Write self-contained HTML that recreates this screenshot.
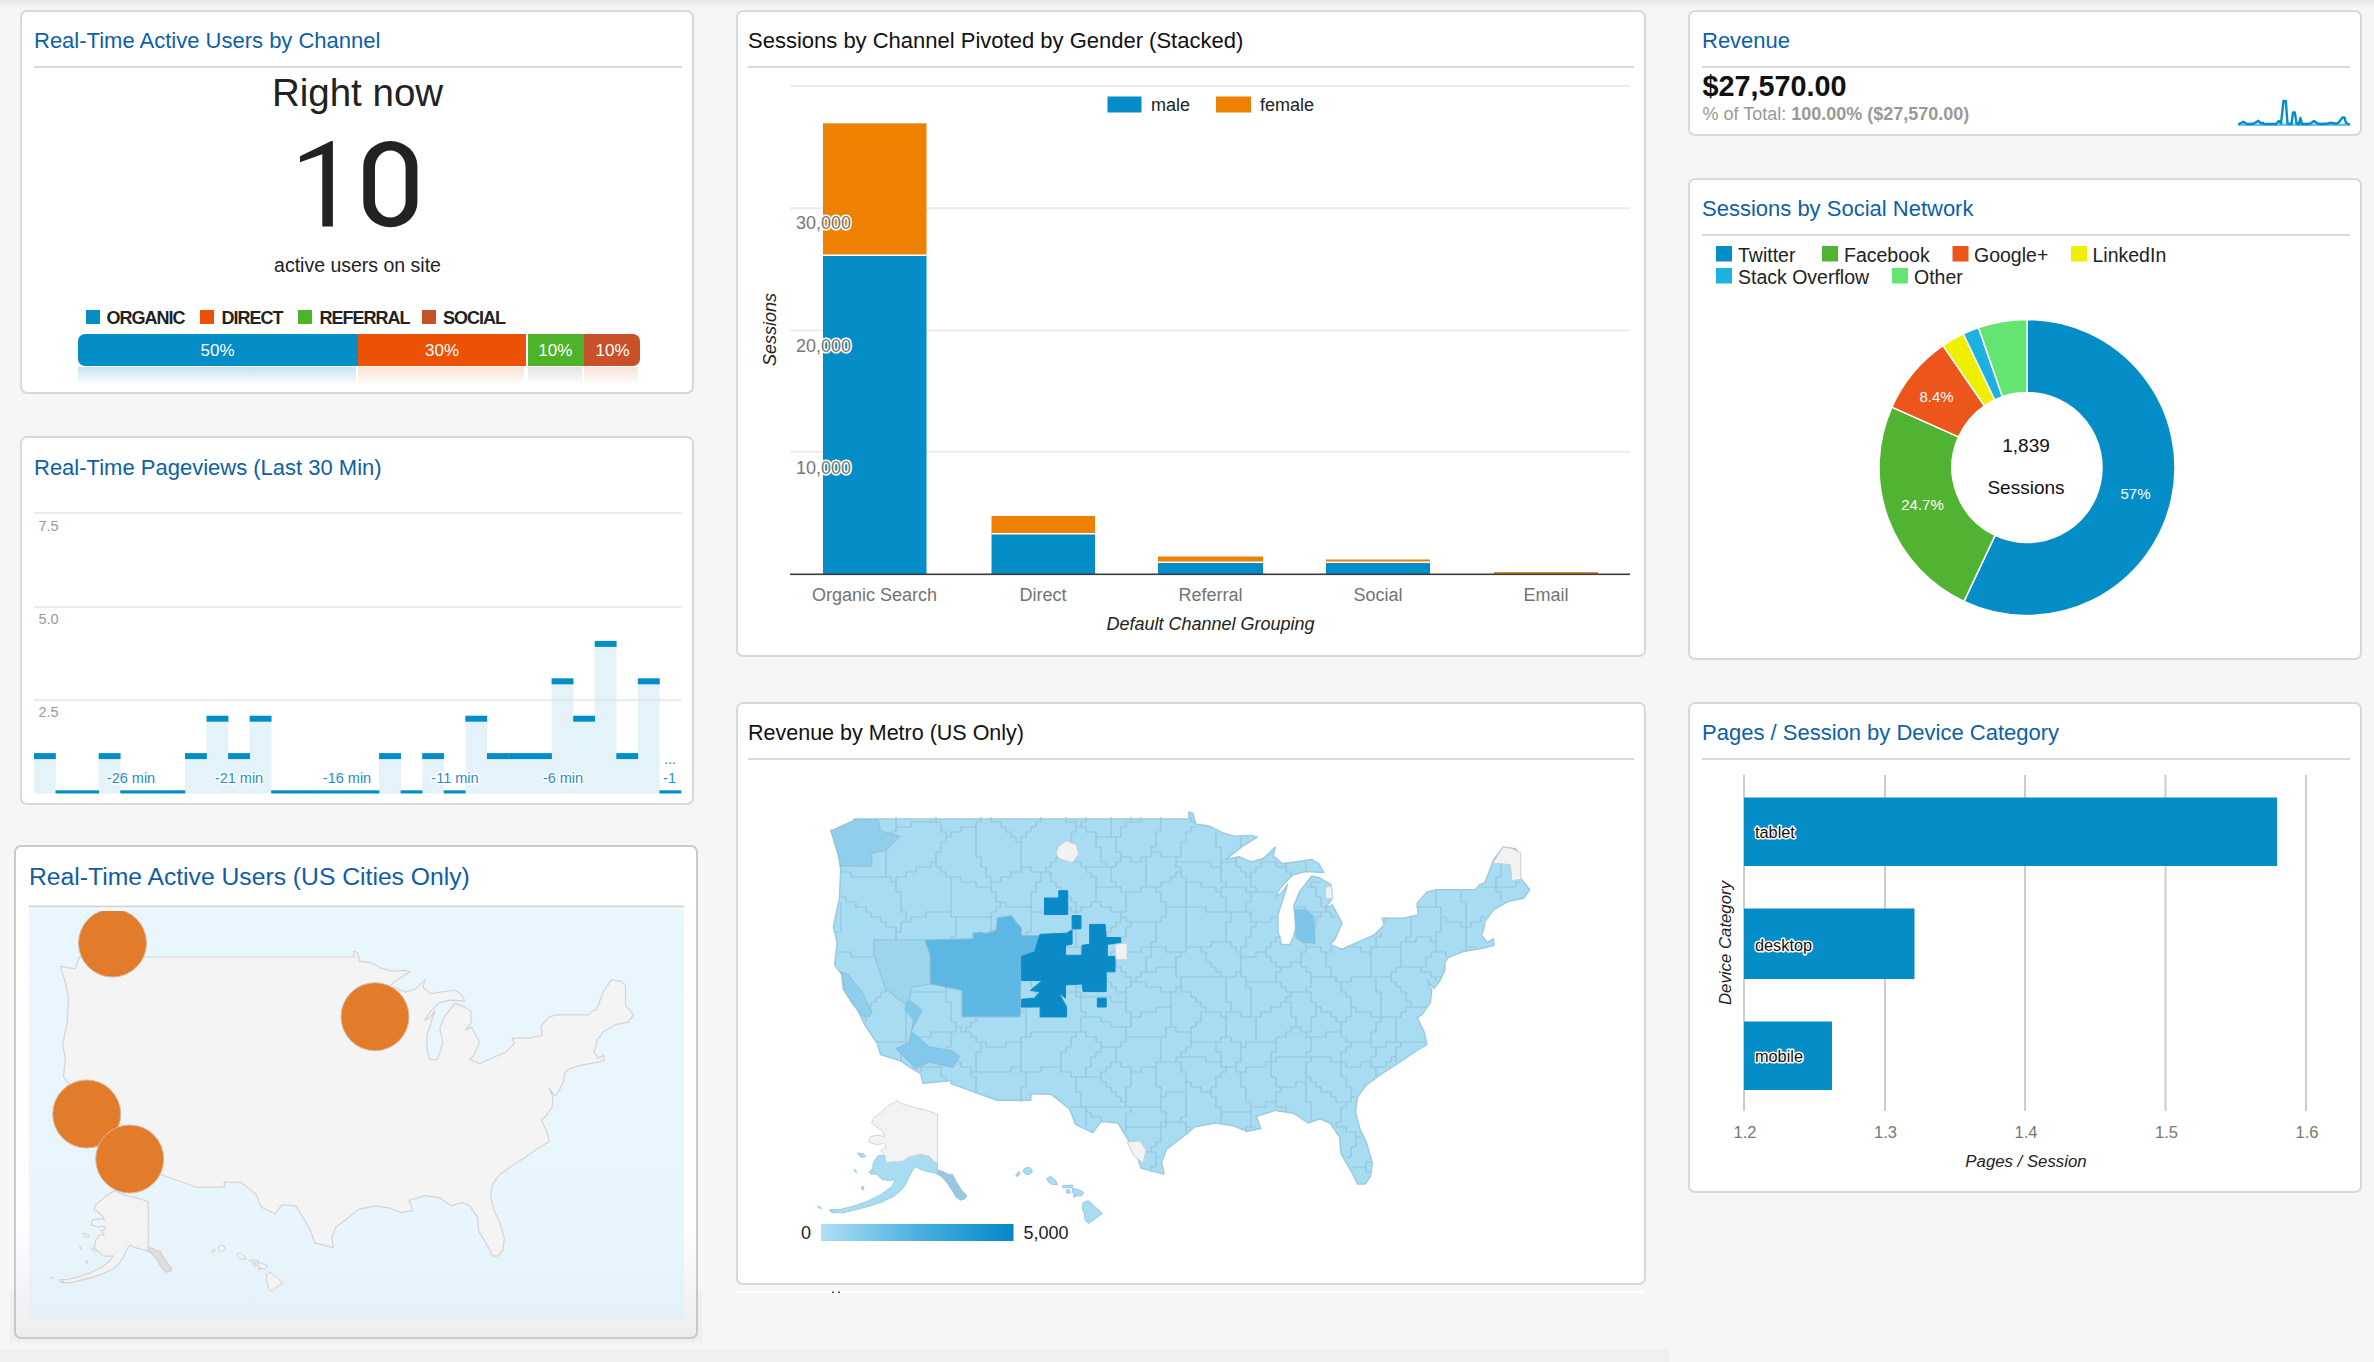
<!DOCTYPE html>
<html><head><meta charset="utf-8"><style>
html,body{margin:0;padding:0;}
body{width:2374px;height:1362px;overflow:hidden;background:#f6f6f6;font-family:"Liberation Sans", sans-serif;}
svg{position:absolute;left:0;top:0;}
svg text{font-family:"Liberation Sans", sans-serif;}
</style></head><body>
<svg width="2374" height="1362" viewBox="0 0 2374 1362">
<defs>
<linearGradient id="topshade" x1="0" y1="0" x2="0" y2="1"><stop offset="0" stop-color="#e6e6e6"/><stop offset="1" stop-color="#f6f6f6"/></linearGradient>
</defs>
<rect x="0" y="0" width="2374" height="8" fill="url(#topshade)"/>
<rect x="21" y="11" width="672" height="382" rx="6" ry="6" fill="#fff" stroke="#d8d8d8" stroke-width="2"/>
<rect x="21" y="437" width="672" height="367" rx="6" ry="6" fill="#fff" stroke="#d8d8d8" stroke-width="2"/>
<rect x="737" y="11" width="908" height="645" rx="6" ry="6" fill="#fff" stroke="#d8d8d8" stroke-width="2"/>
<rect x="737" y="703" width="908" height="581" rx="6" ry="6" fill="#fff" stroke="#d8d8d8" stroke-width="2"/>
<rect x="1689" y="11" width="672" height="124" rx="6" ry="6" fill="#fff" stroke="#d8d8d8" stroke-width="2"/>
<rect x="1689" y="179" width="672" height="480" rx="6" ry="6" fill="#fff" stroke="#d8d8d8" stroke-width="2"/>
<rect x="1689" y="703" width="672" height="489" rx="6" ry="6" fill="#fff" stroke="#d8d8d8" stroke-width="2"/>
<text x="34" y="48" font-size="22" fill="#0d5fa8" text-anchor="start" font-weight="normal" font-style="normal" >Real-Time Active Users by Channel</text>
<rect x="34" y="66" width="648" height="2" fill="#d9d9d9"/>
<text x="34" y="475" font-size="22" fill="#0d5fa8" text-anchor="start" font-weight="normal" font-style="normal" >Real-Time Pageviews (Last 30 Min)</text>
<text x="748" y="48" font-size="22" fill="#111" text-anchor="start" font-weight="normal" font-style="normal" >Sessions by Channel Pivoted by Gender (Stacked)</text>
<rect x="748" y="66" width="886" height="2" fill="#d9d9d9"/>
<text x="748" y="740" font-size="21.5" fill="#111" text-anchor="start" font-weight="normal" font-style="normal" >Revenue by Metro (US Only)</text>
<rect x="748" y="758" width="886" height="2" fill="#d9d9d9"/>
<text x="1702" y="48" font-size="22" fill="#0d5fa8" text-anchor="start" font-weight="normal" font-style="normal" >Revenue</text>
<rect x="1702" y="66" width="648" height="2" fill="#d9d9d9"/>
<text x="1702" y="216" font-size="22" fill="#0d5fa8" text-anchor="start" font-weight="normal" font-style="normal" >Sessions by Social Network</text>
<rect x="1702" y="234" width="648" height="2" fill="#d9d9d9"/>
<text x="1702" y="740" font-size="22" fill="#0d5fa8" text-anchor="start" font-weight="normal" font-style="normal" >Pages / Session by Device Category</text>
<rect x="1702" y="758" width="648" height="2" fill="#d9d9d9"/>
<text x="357.5" y="105.6" font-size="38.5" fill="#222" text-anchor="middle" font-weight="normal" font-style="normal" >Right now</text>
<path d="M332.9,141 L332.9,226.4 L322.3,226.4 L322.3,154.2 L300,162.3 L300,156.2 L331.2,141 Z" fill="#222"/>
<path d="M390.3,141 L390.4,141 A27,25 0 0 1 417.4,166 L417.4,202.2 A27,25 0 0 1 390.4,227.2 L390.3,227.2 A27,25 0 0 1 363.3,202.2 L363.3,166 A27,25 0 0 1 390.3,141 Z M390.3,150.6 L390.3,150.6 A15.3,17 0 0 1 405.6,167.6 L405.6,200.6 A15.3,17 0 0 1 390.3,217.6 L390.3,217.6 A15.3,17 0 0 1 375,200.6 L375,167.6 A15.3,17 0 0 1 390.3,150.6 Z" fill="#222" fill-rule="evenodd"/>
<text x="357.5" y="272" font-size="19.5" fill="#222" text-anchor="middle" font-weight="normal" font-style="normal" >active users on site</text>
<rect x="86" y="310" width="14" height="14" fill="#058dc7"/>
<text x="106.6" y="324" font-size="18" fill="#222" text-anchor="start" font-weight="bold" font-style="normal" letter-spacing="-1">ORGANIC</text>
<rect x="200" y="310" width="14" height="14" fill="#ec5205"/>
<text x="221.5" y="324" font-size="18" fill="#222" text-anchor="start" font-weight="bold" font-style="normal" letter-spacing="-1">DIRECT</text>
<rect x="298" y="310" width="14" height="14" fill="#4db328"/>
<text x="319.4" y="324" font-size="18" fill="#222" text-anchor="start" font-weight="bold" font-style="normal" letter-spacing="-1">REFERRAL</text>
<rect x="422" y="310" width="14" height="14" fill="#c9512a"/>
<text x="443" y="324" font-size="18" fill="#222" text-anchor="start" font-weight="bold" font-style="normal" letter-spacing="-1">SOCIAL</text>
<clipPath id="barclip"><rect x="78" y="334" width="562" height="32" rx="7" ry="7"/></clipPath>
<g clip-path="url(#barclip)">
<rect x="78" y="334" width="280" height="32" fill="#058dc7"/>
<rect x="358" y="334" width="168" height="32" fill="#ec5205"/>
<rect x="526" y="334" width="2" height="32" fill="#fff"/>
<rect x="528" y="334" width="56" height="32" fill="#4db328"/>
<rect x="584" y="334" width="56" height="32" fill="#c9512a"/>
</g>
<text x="217.5" y="356" font-size="17" fill="#fff" text-anchor="middle" font-weight="normal" font-style="normal" >50%</text>
<text x="442" y="356" font-size="17" fill="#fff" text-anchor="middle" font-weight="normal" font-style="normal" >30%</text>
<text x="555.3" y="356" font-size="17" fill="#fff" text-anchor="middle" font-weight="normal" font-style="normal" >10%</text>
<text x="612.5" y="356" font-size="17" fill="#fff" text-anchor="middle" font-weight="normal" font-style="normal" >10%</text>
<linearGradient id="reflg" x1="0" y1="0" x2="0" y2="1"><stop offset="0" stop-color="#fff" stop-opacity="0.35"/><stop offset="1" stop-color="#fff" stop-opacity="1"/></linearGradient>
<rect x="78" y="367" width="278" height="17" fill="#9fd0e8"/>
<rect x="358" y="367" width="166" height="17" fill="#f8cdb8"/>
<rect x="528" y="367" width="54" height="17" fill="#d2d2d2"/>
<rect x="584" y="367" width="54" height="17" fill="#f3cdb9"/>
<rect x="76" y="366" width="566" height="19" fill="url(#reflg)"/>
<text x="38.5" y="530.7" font-size="14.5" fill="#999" text-anchor="start" font-weight="normal" font-style="normal" >7.5</text>
<text x="38.5" y="623.5" font-size="14.5" fill="#999" text-anchor="start" font-weight="normal" font-style="normal" >5.0</text>
<text x="38.5" y="717" font-size="14.5" fill="#999" text-anchor="start" font-weight="normal" font-style="normal" >2.5</text>
<rect x="34.00" y="756.10" width="21.87" height="37.40" fill="#e4f2fa"/>
<rect x="98.70" y="756.10" width="21.87" height="37.40" fill="#e4f2fa"/>
<rect x="184.97" y="756.10" width="21.87" height="37.40" fill="#e4f2fa"/>
<rect x="206.53" y="718.70" width="21.87" height="74.80" fill="#e4f2fa"/>
<rect x="228.10" y="756.10" width="21.87" height="37.40" fill="#e4f2fa"/>
<rect x="249.67" y="718.70" width="21.87" height="74.80" fill="#e4f2fa"/>
<rect x="379.07" y="756.10" width="21.87" height="37.40" fill="#e4f2fa"/>
<rect x="422.20" y="756.10" width="21.87" height="37.40" fill="#e4f2fa"/>
<rect x="465.33" y="718.70" width="21.87" height="74.80" fill="#e4f2fa"/>
<rect x="486.90" y="756.10" width="21.87" height="37.40" fill="#e4f2fa"/>
<rect x="508.47" y="756.10" width="21.87" height="37.40" fill="#e4f2fa"/>
<rect x="530.03" y="756.10" width="21.87" height="37.40" fill="#e4f2fa"/>
<rect x="551.60" y="681.30" width="21.87" height="112.20" fill="#e4f2fa"/>
<rect x="573.17" y="718.70" width="21.87" height="74.80" fill="#e4f2fa"/>
<rect x="594.73" y="643.90" width="21.87" height="149.60" fill="#e4f2fa"/>
<rect x="616.30" y="756.10" width="21.87" height="37.40" fill="#e4f2fa"/>
<rect x="637.87" y="681.30" width="21.87" height="112.20" fill="#e4f2fa"/>
<rect x="34" y="512" width="648" height="2" fill="#e2e2e2" fill-opacity="0.7"/>
<rect x="34" y="606" width="648" height="2" fill="#e2e2e2" fill-opacity="0.7"/>
<rect x="34" y="699.2" width="648" height="2" fill="#e2e2e2" fill-opacity="0.7"/>
<rect x="34.00" y="753.10" width="21.87" height="6" fill="#058dc7"/>
<rect x="55.57" y="790.30" width="21.87" height="3.2" fill="#058dc7"/>
<rect x="77.13" y="790.30" width="21.87" height="3.2" fill="#058dc7"/>
<rect x="98.70" y="753.10" width="21.87" height="6" fill="#058dc7"/>
<rect x="120.27" y="790.30" width="21.87" height="3.2" fill="#058dc7"/>
<rect x="141.83" y="790.30" width="21.87" height="3.2" fill="#058dc7"/>
<rect x="163.40" y="790.30" width="21.87" height="3.2" fill="#058dc7"/>
<rect x="184.97" y="753.10" width="21.87" height="6" fill="#058dc7"/>
<rect x="206.53" y="715.70" width="21.87" height="6" fill="#058dc7"/>
<rect x="228.10" y="753.10" width="21.87" height="6" fill="#058dc7"/>
<rect x="249.67" y="715.70" width="21.87" height="6" fill="#058dc7"/>
<rect x="271.23" y="790.30" width="21.87" height="3.2" fill="#058dc7"/>
<rect x="292.80" y="790.30" width="21.87" height="3.2" fill="#058dc7"/>
<rect x="314.37" y="790.30" width="21.87" height="3.2" fill="#058dc7"/>
<rect x="335.93" y="790.30" width="21.87" height="3.2" fill="#058dc7"/>
<rect x="357.50" y="790.30" width="21.87" height="3.2" fill="#058dc7"/>
<rect x="379.07" y="753.10" width="21.87" height="6" fill="#058dc7"/>
<rect x="400.63" y="790.30" width="21.87" height="3.2" fill="#058dc7"/>
<rect x="422.20" y="753.10" width="21.87" height="6" fill="#058dc7"/>
<rect x="443.77" y="790.30" width="21.87" height="3.2" fill="#058dc7"/>
<rect x="465.33" y="715.70" width="21.87" height="6" fill="#058dc7"/>
<rect x="486.90" y="753.10" width="21.87" height="6" fill="#058dc7"/>
<rect x="508.47" y="753.10" width="21.87" height="6" fill="#058dc7"/>
<rect x="530.03" y="753.10" width="21.87" height="6" fill="#058dc7"/>
<rect x="551.60" y="678.30" width="21.87" height="6" fill="#058dc7"/>
<rect x="573.17" y="715.70" width="21.87" height="6" fill="#058dc7"/>
<rect x="594.73" y="640.90" width="21.87" height="6" fill="#058dc7"/>
<rect x="616.30" y="753.10" width="21.87" height="6" fill="#058dc7"/>
<rect x="637.87" y="678.30" width="21.87" height="6" fill="#058dc7"/>
<rect x="659.43" y="790.30" width="21.87" height="3.2" fill="#058dc7"/>
<text x="131" y="783" font-size="14.5" fill="#1d8fc7" text-anchor="middle" font-weight="normal" font-style="normal" stroke="#fff" stroke-width="3" paint-order="stroke" stroke-linejoin="round">-26 min</text>
<text x="239" y="783" font-size="14.5" fill="#1d8fc7" text-anchor="middle" font-weight="normal" font-style="normal" stroke="#fff" stroke-width="3" paint-order="stroke" stroke-linejoin="round">-21 min</text>
<text x="347" y="783" font-size="14.5" fill="#1d8fc7" text-anchor="middle" font-weight="normal" font-style="normal" stroke="#fff" stroke-width="3" paint-order="stroke" stroke-linejoin="round">-16 min</text>
<text x="455" y="783" font-size="14.5" fill="#1d8fc7" text-anchor="middle" font-weight="normal" font-style="normal" stroke="#fff" stroke-width="3" paint-order="stroke" stroke-linejoin="round">-11 min</text>
<text x="563" y="783" font-size="14.5" fill="#1d8fc7" text-anchor="middle" font-weight="normal" font-style="normal" stroke="#fff" stroke-width="3" paint-order="stroke" stroke-linejoin="round">-6 min</text>
<text x="669.5" y="783" font-size="14.5" fill="#1d8fc7" text-anchor="middle" font-weight="normal" font-style="normal" stroke="#fff" stroke-width="3" paint-order="stroke" stroke-linejoin="round">-1</text>
<text x="670" y="764" font-size="14" fill="#1d8fc7" text-anchor="middle" font-weight="normal" font-style="normal" >...</text>
<rect x="10" y="1290" width="692" height="53" fill="#eff0f0"/>
<linearGradient id="c3fade" x1="0" y1="0" x2="0" y2="1"><stop offset="0" stop-color="#fff"/><stop offset="0.78" stop-color="#fdfdfd"/><stop offset="1" stop-color="#ededed"/></linearGradient>
<rect x="15" y="846" width="682" height="492" rx="6" ry="6" fill="url(#c3fade)" stroke="#c9c9c9" stroke-width="2"/>
<text x="29" y="885" font-size="24.7" fill="#0d5ea6" text-anchor="start" font-weight="normal" font-style="normal" >Real-Time Active Users (US Cities Only)</text>
<rect x="29" y="905.5" width="655" height="2" fill="#d6d6d6"/>
<linearGradient id="mapbg3" x1="0" y1="0" x2="0" y2="1"><stop offset="0" stop-color="#eaf6fd"/><stop offset="0.82" stop-color="#e9f5fc"/><stop offset="1" stop-color="#e3f0f8"/></linearGradient>
<rect x="29" y="909" width="655" height="410" fill="url(#mapbg3)"/>
<path d="M60.5,966.3 L75.4,968.9 L79.4,957.0 L353.9,957.0 L353.9,951.3 L357.4,952.5 L359.4,961.2 L371.3,963.0 L381.2,968.2 L391.2,971.1 L405.1,970.4 L410.0,971.9 L398.1,979.2 L384.2,990.1 L395.1,987.9 L405.1,992.2 L415.0,989.4 L424.9,979.9 L422.9,987.2 L430.9,993.7 L444.8,991.5 L454.7,990.1 L460.7,993.7 L464.7,1000.8 L449.8,1000.1 L438.8,1002.9 L428.9,1013.5 L424.9,1020.4 L429.9,1017.7 L434.9,1010.7 L426.9,1035.5 L426.9,1049.0 L429.9,1059.6 L436.8,1059.6 L439.8,1053.0 L442.8,1042.3 L439.8,1028.7 L444.8,1016.3 L454.7,1003.6 L460.7,1005.1 L470.6,1010.7 L471.6,1021.8 L465.6,1030.1 L471.6,1027.3 L479.5,1042.3 L473.6,1055.7 L469.6,1059.6 L479.5,1063.6 L494.4,1057.0 L506.4,1051.7 L514.3,1043.6 L512.3,1038.2 L529.2,1038.2 L542.1,1035.5 L541.1,1026.0 L549.1,1017.0 L556.5,1014.9 L588.8,1014.9 L592.7,1010.7 L596.7,1009.3 L603.7,990.8 L611.6,979.9 L621.5,981.4 L625.5,985.8 L625.5,1005.1 L633.5,1014.9 L628.5,1021.8 L615.6,1024.6 L603.7,1031.4 L596.7,1040.9 L595.7,1047.7 L593.7,1051.7 L598.7,1058.3 L603.7,1055.0 L604.2,1060.3 L597.7,1062.3 L589.8,1063.6 L578.8,1065.6 L566.9,1070.1 L564.0,1074.0 L564.0,1080.5 L559.0,1090.8 L555.0,1095.9 L549.1,1088.2 L553.0,1097.1 L552.0,1107.2 L545.1,1117.1 L541.1,1119.6 L547.1,1131.9 L549.1,1141.6 L539.1,1147.6 L525.2,1157.2 L512.3,1165.4 L499.4,1174.8 L492.5,1184.1 L490.5,1196.8 L494.4,1211.6 L499.4,1221.7 L504.4,1238.4 L502.9,1249.4 L498.4,1255.9 L492.5,1255.9 L487.5,1246.1 L478.6,1230.6 L477.6,1217.2 L469.6,1205.9 L461.7,1202.5 L451.7,1205.9 L439.8,1197.9 L424.9,1195.6 L410.0,1200.2 L409.0,1200.2 L413.0,1210.4 L402.1,1212.7 L390.2,1208.2 L375.3,1205.9 L358.4,1209.3 L350.5,1216.1 L335.6,1227.3 L331.6,1238.4 L333.6,1247.7 L314.7,1242.8 L310.7,1230.6 L295.8,1205.9 L281.9,1204.8 L275.0,1213.8 L261.1,1207.0 L256.1,1194.5 L241.2,1182.4 L224.3,1182.0 L224.3,1187.2 L196.5,1187.2 L158.8,1173.7 L159.8,1171.1 L136.0,1173.3 L134.0,1165.4 L124.1,1159.5 L117.1,1154.8 L101.2,1150.0 L98.2,1140.4 L88.3,1125.8 L82.3,1113.4 L77.4,1107.2 L70.4,1095.9 L69.4,1084.4 L63.5,1076.6 L65.5,1058.3 L62.5,1045.0 L67.5,1021.8 L68.4,998.0 L66.5,986.5Z" fill="#f4f4f4" stroke="#d4d4d4" stroke-width="1.2" stroke-linejoin="round"/>
<path d="M107.1,1195.2 L107.0,1195.2 L107.0,1195.2 L102.6,1199.1 L96.0,1204.6 L96.0,1204.6 L96.0,1204.6 L95.9,1204.6 L95.9,1204.7 L93.7,1209.1 L93.7,1209.1 L93.7,1209.1 L93.7,1209.1 L93.7,1209.2 L93.7,1209.2 L93.7,1209.2 L93.7,1209.3 L93.7,1209.3 L93.7,1209.3 L93.7,1209.3 L93.8,1209.4 L93.8,1209.4 L93.8,1209.4 L93.8,1209.4 L93.8,1209.4 L97.1,1211.6 L102.6,1216.0 L104.5,1219.8 L99.6,1218.8 L99.5,1218.8 L99.5,1218.8 L99.5,1218.8 L99.5,1218.8 L92.9,1219.9 L92.8,1219.9 L92.8,1219.9 L92.8,1219.9 L92.7,1219.9 L92.7,1220.0 L92.7,1220.0 L92.7,1220.0 L92.7,1220.0 L92.6,1220.0 L92.6,1220.1 L92.6,1220.1 L92.6,1220.1 L91.5,1224.5 L91.5,1224.6 L91.5,1224.6 L91.5,1224.6 L91.5,1224.6 L91.5,1224.7 L91.5,1224.7 L91.5,1224.7 L91.5,1224.8 L91.6,1224.8 L91.6,1224.8 L91.6,1224.8 L91.6,1224.8 L91.7,1224.9 L91.7,1224.9 L91.7,1224.9 L98.3,1227.1 L98.3,1227.1 L98.4,1227.1 L98.4,1227.1 L98.4,1227.1 L98.5,1227.1 L103.8,1226.0 L105.7,1228.9 L101.6,1230.9 L101.5,1230.9 L101.5,1231.0 L101.5,1231.0 L101.5,1231.0 L101.5,1231.0 L101.4,1231.1 L101.4,1231.1 L101.4,1231.1 L101.4,1231.1 L101.4,1231.2 L101.4,1231.2 L101.4,1231.2 L101.4,1231.2 L101.4,1231.3 L101.4,1231.3 L101.4,1231.3 L101.4,1231.4 L101.5,1231.4 L104.4,1235.3 L99.5,1235.3 L99.5,1235.3 L99.4,1235.3 L99.4,1235.3 L99.4,1235.3 L99.4,1235.3 L99.3,1235.3 L99.3,1235.4 L99.3,1235.4 L99.3,1235.4 L99.3,1235.4 L95.4,1240.9 L95.4,1241.0 L95.4,1241.0 L95.4,1241.0 L95.4,1241.0 L95.4,1241.1 L94.8,1245.4 L92.6,1249.8 L92.6,1249.8 L92.6,1249.8 L92.6,1249.8 L92.6,1249.9 L92.6,1249.9 L92.6,1249.9 L92.6,1250.0 L92.6,1250.0 L92.6,1250.0 L92.6,1250.0 L92.7,1250.1 L92.7,1250.1 L92.7,1250.1 L92.7,1250.1 L92.7,1250.2 L92.8,1250.2 L92.8,1250.2 L92.8,1250.2 L92.8,1250.2 L98.3,1251.3 L102.6,1255.6 L102.6,1255.6 L102.6,1255.6 L102.7,1255.7 L102.7,1255.7 L102.7,1255.7 L102.7,1255.7 L102.8,1255.7 L108.3,1256.2 L108.3,1256.2 L108.3,1256.2 L113.2,1255.8 L110.3,1260.7 L101.5,1267.2 L90.6,1272.7 L79.6,1276.6 L68.7,1279.3 L59.9,1279.9 L59.9,1279.9 L59.8,1279.9 L59.8,1279.9 L59.8,1279.9 L59.7,1279.9 L59.7,1279.9 L59.7,1279.9 L59.7,1280.0 L59.7,1280.0 L59.6,1280.0 L59.6,1280.0 L59.6,1280.1 L59.6,1280.1 L59.6,1280.1 L59.6,1280.1 L59.6,1280.2 L59.6,1280.2 L59.6,1280.2 L59.6,1280.3 L59.6,1280.3 L59.7,1280.3 L59.7,1280.3 L59.7,1280.4 L61.9,1282.6 L61.9,1282.6 L61.9,1282.6 L62.0,1282.6 L62.0,1282.6 L62.0,1282.6 L62.0,1282.6 L62.1,1282.6 L62.1,1282.6 L70.9,1282.6 L70.9,1282.6 L71.0,1282.6 L93.0,1277.1 L93.0,1277.1 L104.0,1273.3 L104.0,1273.3 L112.8,1268.9 L112.9,1268.9 L112.9,1268.8 L119.5,1263.3 L119.5,1263.3 L119.5,1263.3 L119.6,1263.3 L122.9,1257.8 L122.9,1257.7 L126.2,1251.1 L128.3,1246.8 L130.3,1245.3 L134.6,1247.4 L134.6,1247.4 L134.6,1247.4 L140.1,1249.1 L140.1,1249.1 L145.6,1250.2 L151.0,1252.9 L155.4,1257.8 L159.7,1264.4 L163.0,1269.9 L163.1,1269.9 L163.1,1269.9 L163.1,1269.9 L163.1,1269.9 L163.1,1269.9 L166.4,1272.1 L166.5,1272.2 L166.5,1272.2 L166.5,1272.2 L166.5,1272.2 L166.6,1272.2 L166.6,1272.2 L166.6,1272.2 L166.7,1272.2 L166.7,1272.2 L170.5,1271.1 L170.6,1271.1 L170.6,1271.1 L170.6,1271.1 L170.6,1271.0 L170.7,1271.0 L170.7,1271.0 L170.7,1271.0 L170.7,1270.9 L170.7,1270.9 L171.8,1268.2 L171.8,1268.1 L171.8,1268.1 L171.8,1268.1 L171.8,1268.0 L171.8,1268.0 L171.8,1268.0 L171.8,1268.0 L171.8,1267.9 L171.8,1267.9 L171.8,1267.9 L171.8,1267.9 L171.8,1267.8 L167.9,1264.0 L163.6,1257.4 L160.3,1250.9 L160.3,1250.8 L160.2,1250.8 L160.2,1250.8 L160.2,1250.8 L160.2,1250.8 L160.2,1250.7 L160.1,1250.7 L160.1,1250.7 L160.1,1250.7 L160.0,1250.7 L160.0,1250.7 L160.0,1250.7 L160.0,1250.7 L159.9,1250.7 L157.8,1251.2 L152.4,1248.5 L152.4,1248.5 L152.4,1248.5 L148.2,1247.5 L148.2,1242.2 L148.2,1202.0 L148.2,1202.0 L148.2,1202.0 L148.2,1202.0 L148.2,1201.9 L148.2,1201.9 L148.1,1201.9 L148.1,1201.9 L148.1,1201.8 L148.1,1201.8 L148.1,1201.8 L148.0,1201.8 L148.0,1201.8 L141.4,1199.2 L141.4,1199.2 L134.8,1197.4 L134.8,1197.4 L129.3,1196.3 L123.8,1194.6 L119.4,1193.0 L115.0,1190.8 L115.0,1190.8 L115.0,1190.8 L115.0,1190.8 L114.9,1190.8 L114.9,1190.8 L114.9,1190.8 L114.8,1190.8 L114.8,1190.8 L114.8,1190.8 L114.8,1190.8 L107.1,1195.2Z" fill="#f3f3f3" stroke="#d2d2d2" stroke-width="1.1" stroke-linejoin="round"/>
<path d="M147.9,1247.7 L152.3,1248.8 L157.8,1251.5 L160.0,1251.0 L163.3,1257.6 L167.7,1264.2 L171.6,1268.0 L170.4,1270.8 L166.6,1271.9 L163.3,1269.7 L160.0,1264.2 L155.6,1257.6 L151.2,1252.7 L147.9,1249.9Z" fill="#dedede" stroke="#d2d2d2" stroke-width="1"/>
<path d="M50.0,1276.8 L52.2,1277.4 L53.3,1279.0 L51.1,1278.5Z" fill="#f3f3f3" stroke="#d2d2d2" stroke-width="1"/>
<path d="M59.4,1280.2 L62.1,1279.6 L64.3,1281.2 L61.0,1281.8Z" fill="#f3f3f3" stroke="#d2d2d2" stroke-width="1"/>
<path d="M79.7,1246.6 L81.3,1247.7 L81.9,1249.3 L80.2,1248.8Z" fill="#f3f3f3" stroke="#d2d2d2" stroke-width="1"/>
<path d="M91.8,1248.8 L95.1,1247.7 L96.8,1250.5 L93.5,1251.0Z" fill="#f3f3f3" stroke="#d2d2d2" stroke-width="1"/>
<path d="M82.5,1233.4 L87.4,1234.0 L89.6,1236.7 L85.2,1237.2Z" fill="#f3f3f3" stroke="#d2d2d2" stroke-width="1"/>
<path d="M85.8,1260.9 L87.4,1260.9 L88.0,1263.7 L86.3,1263.7Z" fill="#f3f3f3" stroke="#d2d2d2" stroke-width="1"/>
<path d="M211.7,1252.1 L213.9,1248.8 L215.6,1249.9 L213.4,1252.7Z" fill="#f3f3f3" stroke="#d2d2d2" stroke-width="1"/>
<path d="M225.1,1248.2 L224.8,1249.5 L223.8,1250.6 L222.4,1251.1 L220.8,1251.1 L219.4,1250.6 L218.4,1249.5 L218.1,1248.2 L218.4,1247.0 L219.4,1245.9 L220.8,1245.4 L222.4,1245.4 L223.8,1245.9 L224.8,1247.0Z" fill="#f3f3f3" stroke="#d2d2d2" stroke-width="1"/>
<path d="M237.0,1254.3 L240.3,1252.7 L244.7,1256.5 L245.8,1259.2 L241.4,1259.2 L238.6,1257.6Z" fill="#f3f3f3" stroke="#d2d2d2" stroke-width="1"/>
<path d="M249.6,1260.3 L257.9,1259.8 L258.4,1262.0 L250.2,1262.0Z" fill="#f3f3f3" stroke="#d2d2d2" stroke-width="1"/>
<path d="M252.9,1263.7 L255.7,1263.7 L256.2,1266.4 L253.5,1266.4Z" fill="#f3f3f3" stroke="#d2d2d2" stroke-width="1"/>
<path d="M257.9,1262.5 L262.3,1263.1 L267.2,1265.8 L265.6,1268.6 L261.2,1268.6 L258.4,1266.4Z" fill="#f3f3f3" stroke="#d2d2d2" stroke-width="1"/>
<path d="M258.4,1268.6 L260.6,1268.0 L260.1,1269.7Z" fill="#f3f3f3" stroke="#d2d2d2" stroke-width="1"/>
<path d="M266.7,1274.1 L271.1,1272.5 L277.7,1278.5 L282.6,1282.9 L276.6,1287.3 L271.1,1291.2 L268.4,1288.4 L267.8,1282.9 L266.1,1279.6Z" fill="#f3f3f3" stroke="#d2d2d2" stroke-width="1"/>
<clipPath id="map3clip"><rect x="29" y="911" width="655" height="408"/></clipPath>
<g clip-path="url(#map3clip)">
<circle cx="112.5" cy="943" r="34" fill="#e27b2a" stroke="#d9b8a0" stroke-width="1"/>
<circle cx="375" cy="1016.7" r="34" fill="#e27b2a" stroke="#d9b8a0" stroke-width="1"/>
<circle cx="86.7" cy="1114" r="34" fill="#e27b2a" stroke="#d9b8a0" stroke-width="1"/>
<circle cx="129.7" cy="1159" r="34" fill="#e27b2a" stroke="#d9b8a0" stroke-width="1"/>
</g>
<rect x="790" y="84.9" width="840" height="2" fill="#ebebeb"/>
<rect x="790" y="207.2" width="840" height="2" fill="#ebebeb"/>
<rect x="790" y="329.5" width="840" height="2" fill="#ebebeb"/>
<rect x="790" y="450.8" width="840" height="2" fill="#ebebeb"/>
<rect x="823" y="123.3" width="103.5" height="131.7" fill="#ee8102"/>
<rect x="823" y="255" width="103.5" height="319" fill="#058dc7"/>
<rect x="823" y="254.5" width="103.5" height="1.5" fill="#fff"/>
<rect x="991.5" y="516" width="103.5" height="17.5" fill="#ee8102"/>
<rect x="991.5" y="533.5" width="103.5" height="40.5" fill="#058dc7"/>
<rect x="991.5" y="533.0" width="103.5" height="1.5" fill="#fff"/>
<rect x="1158" y="556.5" width="105" height="5.5" fill="#ee8102"/>
<rect x="1158" y="562" width="105" height="12" fill="#058dc7"/>
<rect x="1158" y="561.5" width="105" height="1.5" fill="#fff"/>
<rect x="1326" y="559.5" width="104" height="2.5" fill="#ee8102"/>
<rect x="1326" y="562" width="104" height="12" fill="#058dc7"/>
<rect x="1326" y="561.5" width="104" height="1.5" fill="#fff"/>
<rect x="1494" y="572" width="104" height="1.6000000000000227" fill="#ee8102"/>
<rect x="1494" y="573.6" width="104" height="0.39999999999997726" fill="#058dc7"/>
<rect x="790" y="573.5" width="840" height="1.6" fill="#3a3a3a"/>
<text x="796" y="229" font-size="18" fill="#777" text-anchor="start" font-weight="normal" font-style="normal" stroke="#fff" stroke-width="3" paint-order="stroke" stroke-linejoin="round">30,000</text>
<text x="796" y="352" font-size="18" fill="#777" text-anchor="start" font-weight="normal" font-style="normal" stroke="#fff" stroke-width="3" paint-order="stroke" stroke-linejoin="round">20,000</text>
<text x="796" y="474" font-size="18" fill="#777" text-anchor="start" font-weight="normal" font-style="normal" stroke="#fff" stroke-width="3" paint-order="stroke" stroke-linejoin="round">10,000</text>
<text x="874.5" y="601" font-size="18" fill="#737373" text-anchor="middle" font-weight="normal" font-style="normal" >Organic Search</text>
<text x="1043" y="601" font-size="18" fill="#737373" text-anchor="middle" font-weight="normal" font-style="normal" >Direct</text>
<text x="1210.5" y="601" font-size="18" fill="#737373" text-anchor="middle" font-weight="normal" font-style="normal" >Referral</text>
<text x="1378" y="601" font-size="18" fill="#737373" text-anchor="middle" font-weight="normal" font-style="normal" >Social</text>
<text x="1546" y="601" font-size="18" fill="#737373" text-anchor="middle" font-weight="normal" font-style="normal" >Email</text>
<text x="1210.5" y="630" font-size="18" fill="#222" text-anchor="middle" font-weight="normal" font-style="italic" >Default Channel Grouping</text>
<text x="0" y="0" font-size="18" fill="#222" font-style="italic" text-anchor="middle" transform="translate(776,329.5) rotate(-90)">Sessions</text>
<rect x="1107.5" y="96.5" width="34" height="16" fill="#058dc7"/>
<text x="1151" y="111" font-size="18" fill="#222" text-anchor="start" font-weight="normal" font-style="normal" >male</text>
<rect x="1216" y="96.5" width="35" height="16" fill="#ee8102"/>
<text x="1260" y="111" font-size="18" fill="#222" text-anchor="start" font-weight="normal" font-style="normal" >female</text>
<path d="M831.0,830.3 L849.2,833.6 L854.0,819.0 L1188.9,819.0 L1188.9,812.0 L1193.1,813.5 L1195.5,824.1 L1210.0,826.3 L1222.2,832.7 L1234.3,836.3 L1251.2,835.4 L1257.3,837.2 L1242.7,846.1 L1225.8,859.4 L1239.1,856.8 L1251.2,862.0 L1263.3,858.5 L1275.4,847.0 L1273.0,855.9 L1282.7,863.8 L1299.7,861.2 L1311.8,859.4 L1319.0,863.8 L1323.9,872.5 L1305.7,871.6 L1292.4,875.1 L1280.3,888.0 L1275.4,896.5 L1281.5,893.1 L1287.5,884.6 L1277.9,914.9 L1277.9,931.4 L1281.5,944.4 L1290.0,944.4 L1293.6,936.3 L1297.2,923.2 L1293.6,906.6 L1299.7,891.4 L1311.8,876.0 L1319.0,877.7 L1331.1,884.6 L1332.4,898.2 L1325.1,908.2 L1332.4,904.9 L1342.0,923.2 L1334.8,939.5 L1329.9,944.4 L1342.0,949.2 L1360.2,941.1 L1374.7,934.6 L1384.4,924.8 L1382.0,918.2 L1402.6,918.2 L1418.3,914.9 L1417.1,903.2 L1426.8,892.2 L1435.9,889.7 L1475.3,889.7 L1480.1,884.6 L1484.9,882.8 L1493.4,860.3 L1503.1,847.0 L1515.2,848.8 L1520.1,854.1 L1520.1,877.7 L1529.7,889.7 L1523.7,898.2 L1507.9,901.5 L1493.4,909.9 L1484.9,921.5 L1483.7,929.7 L1481.3,934.6 L1487.4,942.7 L1493.4,938.7 L1494.0,945.2 L1486.2,947.6 L1476.5,949.2 L1463.1,951.6 L1448.6,957.2 L1445.0,961.9 L1445.0,969.8 L1438.9,982.4 L1434.1,988.6 L1426.8,979.3 L1431.7,990.1 L1430.4,1002.4 L1422.0,1014.6 L1417.1,1017.6 L1424.4,1032.6 L1426.8,1044.4 L1414.7,1051.8 L1397.7,1063.4 L1382.0,1073.6 L1366.3,1085.0 L1357.8,1096.4 L1355.4,1111.8 L1360.2,1129.9 L1366.3,1142.2 L1372.3,1162.6 L1370.5,1176.1 L1365.1,1184.1 L1357.8,1184.1 L1351.7,1172.0 L1340.8,1153.2 L1339.6,1136.8 L1329.9,1123.0 L1320.2,1118.8 L1308.1,1123.0 L1293.6,1113.2 L1275.4,1110.4 L1257.3,1116.0 L1256.1,1116.0 L1260.9,1128.5 L1247.6,1131.3 L1233.1,1125.7 L1214.9,1123.0 L1194.3,1127.1 L1184.6,1135.4 L1166.4,1149.1 L1161.6,1162.6 L1164.0,1174.1 L1141.0,1168.0 L1136.2,1153.2 L1118.0,1123.0 L1101.1,1121.6 L1092.6,1132.6 L1075.6,1124.4 L1069.6,1109.0 L1051.4,1094.3 L1030.8,1093.8 L1030.8,1100.2 L996.9,1100.2 L950.9,1083.6 L952.1,1080.4 L923.0,1083.2 L920.6,1073.6 L908.5,1066.3 L900.0,1060.5 L880.7,1054.7 L877.0,1043.0 L864.9,1025.1 L857.6,1010.0 L851.6,1002.4 L843.1,988.6 L841.9,974.6 L834.6,965.1 L837.1,942.7 L833.4,926.5 L839.5,898.2 L840.7,869.0 L838.3,855.0Z" fill="#a8dcf2" stroke="#9ccbe0" stroke-width="1.5" stroke-linejoin="round"/>
<path d="M856,822H861M911,822H941M976,822H981M991,822H1001M1036,822H1041M1066,822H1076M1081,822H1086M1126,822H1141M1191,822H1196M861,827H871M896,827H911M961,827H976M1001,827H1006M1031,827H1036M1076,827H1086M1121,827H1126M1191,827H1196M871,832H876M891,832H896M941,832H946M951,832H961M1006,832H1011M1026,832H1031M1071,832H1076M1086,832H1096M1156,832H1161M1186,832H1191M946,837H951M1011,837H1016M1021,837H1026M1096,837H1121M876,842H881M886,842H891M941,842H946M1016,842H1021M1066,842H1071M1181,842H1186M881,847H886M1096,847H1101M1151,847H1156M1216,847H1221M936,852H941M1061,852H1066M1116,852H1121M1151,852H1161M976,857H981M1056,857H1071M1121,857H1131M1141,857H1151M1161,857H1181M1496,857H1501M931,862H936M1051,862H1056M1071,862H1081M1101,862H1106M1116,862H1121M1131,862H1141M1176,862H1211M1221,862H1236M1261,862H1276M1501,862H1511M916,867H931M936,867H941M981,867H986M1021,867H1031M1046,867H1051M1081,867H1116M1176,867H1181M1211,867H1221M1236,867H1241M1256,867H1261M1276,867H1286M1511,867H1521M841,872H851M906,872H916M941,872H946M1011,872H1021M1031,872H1051M1086,872H1091M1176,872H1181M1241,872H1246M1251,872H1256M1286,872H1291M851,877H891M896,877H906M946,877H961M986,877H991M1001,877H1011M1091,877H1096M1171,877H1176M1181,877H1186M1246,877H1251M1496,877H1501M891,882H896M961,882H976M991,882H1001M1036,882H1041M1051,882H1056M1111,882H1116M1161,882H1171M1186,882H1201M1221,882H1226M1311,882H1321M1516,882H1521M976,887H991M1056,887H1061M1096,887H1121M1141,887H1161M1201,887H1216M1221,887H1246M1251,887H1256M1306,887H1316M1481,887H1516M896,892H901M991,892H996M1031,892H1036M1061,892H1066M1121,892H1141M1156,892H1161M1216,892H1221M1246,892H1276M1496,892H1501M841,897H846M1066,897H1071M1221,897H1226M1316,897H1321M846,902H856M996,902H1006M1071,902H1076M1091,902H1101M1161,902H1166M1246,902H1251M1461,902H1466M856,907H866M996,907H1001M1006,907H1031M1046,907H1071M1081,907H1091M1101,907H1111M1166,907H1206M1296,907H1306M1321,907H1326M1416,907H1441M866,912H871M901,912H906M926,912H951M991,912H996M1031,912H1046M1071,912H1081M1111,912H1126M1206,912H1251M1306,912H1331M871,917H881M911,917H926M951,917H991M1076,917H1081M1121,917H1126M1161,917H1166M1271,917H1276M1316,917H1321M1331,917H1336M1441,917H1446M1481,917H1486M881,922H886M901,922H911M1116,922H1121M1126,922H1161M1226,922H1231M1251,922H1271M1446,922H1461M1471,922H1481M886,927H896M1076,927H1081M1111,927H1116M1126,927H1131M1251,927H1256M1311,927H1316M1461,927H1471M836,932H841M896,932H901M1026,932H1031M1106,932H1111M1436,932H1441M951,937H956M1101,937H1106M1121,937H1126M1246,937H1251M1276,937H1281M1296,937H1301M1306,937H1311M1376,937H1381M1406,937H1411M1416,937H1431M891,942H896M951,942H956M1096,942H1101M1151,942H1156M1211,942H1231M1271,942H1276M1301,942H1306M1401,942H1416M1431,942H1436M946,947H951M956,947H961M986,947H991M1056,947H1081M1091,947H1096M1116,947H1121M1141,947H1166M1186,947H1211M1231,947H1236M1241,947H1246M1266,947H1271M1306,947H1321M1351,947H1361M1371,947H1401M1466,947H1476M836,952H851M941,952H946M961,952H966M1021,952H1026M1046,952H1056M1081,952H1101M1111,952H1116M1126,952H1141M1166,952H1186M1201,952H1206M1236,952H1241M1256,952H1266M1301,952H1306M1321,952H1331M1361,952H1371M1431,952H1446M851,957H891M936,957H941M966,957H976M1016,957H1026M1036,957H1046M1076,957H1081M1101,957H1126M1146,957H1151M1176,957H1181M1241,957H1256M1266,957H1271M1426,957H1431M916,962H936M976,962H1016M1026,962H1036M1086,962H1091M1206,962H1211M1271,962H1276M1291,962H1301M891,967H916M936,967H941M1091,967H1096M1116,967H1121M1156,967H1176M1211,967H1216M1276,967H1291M1301,967H1306M1326,967H1331M1396,967H1426M941,972H946M1096,972H1101M1121,972H1126M1141,972H1156M1216,972H1221M1236,972H1241M1276,972H1281M1306,972H1311M1391,972H1396M1421,972H1431M946,977H971M1101,977H1106M1126,977H1131M1136,977H1141M1176,977H1236M1241,977H1246M1311,977H1336M1351,977H1391M1431,977H1441M891,982H896M971,982H981M1101,982H1111M1131,982H1146M1246,982H1281M1336,982H1351M1391,982H1396M886,987H891M896,987H901M981,987H986M1031,987H1036M1076,987H1101M1111,987H1116M1126,987H1131M1146,987H1161M1176,987H1181M1246,987H1251M1281,987H1286M1306,987H1311M1396,987H1401M881,992H886M901,992H946M986,992H996M1036,992H1081M1116,992H1126M1161,992H1176M1181,992H1191M1286,992H1311M1341,992H1346M1376,992H1381M1401,992H1406M876,997H881M981,997H986M996,997H1001M1031,997H1036M1076,997H1111M1191,997H1196M1286,997H1291M1346,997H1351M851,1002H856M871,1002H876M946,1002H951M1001,1002H1011M1111,1002H1126M1196,1002H1201M1226,1002H1231M1281,1002H1291M1311,1002H1316M1406,1002H1411M856,1007H871M1011,1007H1021M1026,1007H1031M1156,1007H1171M1201,1007H1206M1271,1007H1281M1316,1007H1321M1351,1007H1356M1406,1007H1426M976,1012H981M1021,1012H1026M1081,1012H1086M1126,1012H1131M1141,1012H1156M1201,1012H1221M1226,1012H1241M1261,1012H1271M1321,1012H1331M1356,1012H1371M1401,1012H1406M861,1017H866M1081,1017H1101M1131,1017H1141M1221,1017H1226M1241,1017H1261M1291,1017H1296M1311,1017H1316M1331,1017H1336M1346,1017H1351M1371,1017H1401M951,1022H956M971,1022H976M1101,1022H1111M1196,1022H1201M1336,1022H1346M1376,1022H1381M956,1027H961M966,1027H971M1111,1027H1131M1166,1027H1176M1191,1027H1196M1291,1027H1301M931,1032H956M961,1032H971M1031,1032H1086M1176,1032H1191M1286,1032H1291M1301,1032H1311M1326,1032H1341M1371,1032H1376M911,1037H931M971,1037H976M1021,1037H1031M1071,1037H1076M1086,1037H1096M1126,1037H1166M1221,1037H1231M1276,1037H1286M1306,1037H1326M1341,1037H1346M876,1042H911M976,1042H986M1006,1042H1021M1096,1042H1101M1121,1042H1126M1191,1042H1221M1231,1042H1241M1246,1042H1276M1346,1042H1371M1386,1042H1426M901,1047H906M946,1047H951M986,1047H1006M1066,1047H1071M1101,1047H1121M1186,1047H1191M1241,1047H1246M1346,1047H1351M1371,1047H1386M1396,1047H1401M976,1052H981M1061,1052H1066M1096,1052H1101M1181,1052H1186M1216,1052H1221M1271,1052H1276M1306,1052H1311M1341,1052H1346M946,1057H951M1091,1057H1096M1176,1057H1206M1276,1057H1331M1371,1057H1376M1391,1057H1396M941,1062H946M951,1062H961M1111,1062H1121M1156,1062H1181M1206,1062H1221M1236,1062H1241M1266,1062H1276M1306,1062H1311M1331,1062H1346M1361,1062H1371M1386,1062H1391M921,1067H941M961,1067H971M1011,1067H1021M1041,1067H1061M1086,1067H1091M1106,1067H1111M1121,1067H1131M1141,1067H1156M1221,1067H1236M1246,1067H1266M1346,1067H1361M1371,1067H1386M971,1072H1011M1021,1072H1041M1061,1072H1071M1101,1072H1106M1131,1072H1141M1181,1072H1186M1221,1072H1226M1236,1072H1246M941,1077H946M971,1077H976M1071,1077H1101M1216,1077H1221M1271,1077H1276M1306,1077H1311M1341,1077H1346M1101,1082H1106M1186,1082H1191M1296,1082H1306M1311,1082H1316M1021,1087H1026M1106,1087H1111M1126,1087H1131M1156,1087H1161M1191,1087H1201M1211,1087H1216M1241,1087H1246M1276,1087H1296M1316,1087H1321M1346,1087H1351M1076,1092H1081M1111,1092H1116M1166,1092H1186M1201,1092H1211M1276,1092H1281M1321,1092H1331M1116,1097H1121M1161,1097H1166M1211,1097H1216M1331,1097H1336M1351,1097H1356M1121,1102H1126M1246,1102H1251M1266,1102H1276M1306,1102H1311M1336,1102H1351M1071,1107H1161M1216,1107H1221M1251,1107H1266M1276,1107H1286M1341,1107H1346M1086,1112H1091M1126,1112H1131M1161,1112H1166M1221,1112H1251M1091,1117H1101M1181,1117H1186M1161,1122H1186M1336,1122H1341M1126,1127H1166M1186,1127H1191M1246,1127H1256M1336,1127H1346M1346,1132H1356M1356,1137H1361M1156,1142H1161M1151,1147H1156M1351,1147H1356M1136,1152H1156M1156,1157H1161M1346,1157H1351M1366,1162H1371M1151,1167H1156M1351,1167H1366M1366,1172H1371M896,817V832M896,877V892M896,927V942M896,967V987M936,817V822M936,852V867M936,957V967M981,817V822M981,857V867M981,962V987M981,997V1012M981,1042V1052M991,817V822M991,877V892M991,912V947M1041,817V822M1041,872V882M1041,1067V1072M1066,817V822M1066,842V852M1066,892V897M1066,1047V1052M1086,817V822M1086,827V832M1086,867V872M1086,952V962M1086,1012V1017M1086,1032V1037M1086,1067V1077M1086,1107V1127M1111,817V837M1111,867V882M1111,907V912M1111,927V932M1111,952V957M1111,982V987M1111,997V1002M1111,1022V1027M1111,1062V1067M1111,1087V1092M1131,817V822M1131,857V862M1131,922V927M1131,977V987M1131,1012V1027M1131,1067V1087M1131,1107V1112M1141,817V822M1141,857V862M1141,887V892M1141,947V952M1141,972V977M1141,1012V1017M1141,1067V1072M1161,817V832M1161,852V857M1161,882V887M1161,892V902M1161,917V922M1161,987V992M1161,1037V1062M1161,1087V1112M1161,1122V1142M1191,817V822M1191,827V832M1191,992V997M1191,1027V1047M1191,1082V1087M861,822V827M861,1007V1012M911,822V827M911,917V922M911,1037V1042M941,822V832M941,842V852M941,867V872M941,952V957M941,967V972M941,1062V1077M976,822V857M976,882V887M976,957V962M976,1012V1022M976,1037V1042M976,1052V1072M976,1077V1092M1001,822V827M1001,877V882M1001,902V907M1001,997V1002M1036,822V827M1036,882V892M1036,957V962M1036,987V997M1076,822V832M1076,902V917M1076,927V947M1076,957V997M1076,1032V1037M1076,1077V1092M1081,822V827M1081,862V867M1081,907V912M1081,917V927M1081,947V957M1081,992V1012M1081,1017V1032M1081,1092V1107M1126,822V827M1126,892V912M1126,917V922M1126,927V937M1126,952V957M1126,972V977M1126,987V1012M1126,1027V1042M1126,1087V1107M1126,1112V1132M871,827V832M871,912V917M871,1002V1007M961,827V832M961,877V882M961,947V952M961,1027V1032M961,1062V1067M1006,827V832M1006,902V907M1006,1042V1047M1031,827V832M1031,867V872M1031,892V932M1031,962V987M1031,997V1007M1031,1032V1037M1121,827V837M1121,852V862M1121,887V892M1121,912V922M1121,937V947M1121,967V972M1121,1042V1047M1121,1062V1067M1121,1097V1102M836,832V837M876,832V842M876,997V1002M891,832V842M891,877V882M891,942V967M891,982V987M946,832V842M946,872V877M946,947V952M946,972V1002M946,1047V1062M946,1077V1082M951,832V837M951,877V917M951,937V947M951,1002V1022M951,1032V1047M951,1057V1062M1011,832V837M1011,872V877M1011,1002V1007M1011,1067V1072M1026,832V837M1026,932V952M1026,957V962M1026,1007V1037M1026,1072V1087M1071,832V842M1071,857V862M1071,897V902M1071,907V912M1071,1037V1047M1071,1072V1077M1096,832V847M1096,877V902M1096,942V947M1096,967V972M1096,1037V1042M1096,1052V1057M1156,832V847M1156,887V892M1156,922V942M1156,967V972M1156,1007V1012M1156,1062V1087M1156,1142V1147M1156,1152V1167M1186,832V842M1186,877V952M1186,1047V1052M1186,1072V1117M1186,1122V1132M1216,832V847M1216,887V892M1216,967V972M1216,1042V1052M1216,1077V1087M1216,1097V1107M1016,837V842M1016,957V962M1021,837V872M1021,952V957M1021,1007V1012M1021,1037V1072M1021,1087V1102M1116,837V852M1116,862V867M1116,882V887M1116,922V927M1116,947V952M1116,957V967M1116,987V992M1116,1047V1062M1116,1092V1097M1241,837V847M1241,867V872M1241,947V977M1241,1012V1017M1241,1042V1062M1241,1072V1087M881,842V847M881,917V922M881,992V997M886,842V877M886,922V927M886,987V992M1181,842V857M1181,867V877M1181,952V957M1181,977V992M1181,1052V1057M1181,1062V1072M1181,1117V1122M1101,847V862M1101,902V907M1101,937V942M1101,952V957M1101,972V977M1101,982V987M1101,1017V1022M1101,1042V1052M1101,1072V1082M1101,1117V1122M1151,847V857M1151,942V957M1151,1147V1152M1151,1167V1172M1221,847V882M1221,887V897M1221,972V977M1221,1012V1017M1221,1037V1042M1221,1052V1067M1221,1072V1077M1221,1107V1122M1061,852V857M1061,887V892M1061,1052V1072M1056,857V862M1056,882V887M1056,947V952M1146,857V887M1146,957V972M1146,982V987M1176,857V867M1176,872V877M1176,957V977M1176,987V992M1176,1027V1032M1176,1057V1062M1236,857V867M1236,947V952M1236,972V977M1236,1062V1072M1501,857V877M1501,892V902M931,862V867M931,1032V1037M1051,862V867M1051,872V882M1106,862V867M1106,932V937M1106,977V982M1106,1067V1072M1106,1082V1087M1211,862V867M1211,942V947M1211,962V967M1211,1087V1097M1261,862V867M1261,1012V1017M1276,862V867M1276,937V942M1276,962V967M1276,972V982M1276,1037V1052M1276,1057V1062M1276,1077V1087M1276,1092V1107M1286,862V872M1286,987V992M1286,997V1002M1286,1032V1037M1286,1107V1112M1306,862V872M1306,907V912M1306,937V952M1306,967V972M1306,987V992M1306,1032V1037M1306,1052V1057M1306,1062V1102M1511,862V867M916,867V872M916,962V967M986,867V877M986,947V962M986,987V997M986,1042V1047M1046,867V872M1046,907V912M1046,952V957M1256,867V872M1256,887V892M1256,922V927M1256,952V957M1256,1017V1042M851,872V877M851,952V957M906,872V877M906,912V922M906,992V1047M1091,872V877M1091,902V907M1091,947V952M1091,962V967M1091,1057V1067M1091,1112V1117M1246,872V877M1246,887V892M1246,902V912M1246,937V947M1246,977V987M1246,1042V1047M1246,1067V1072M1246,1087V1102M1246,1127V1132M1251,872V887M1251,892V902M1251,912V922M1251,927V937M1251,987V1017M1251,1102V1127M1291,872V877M1291,962V967M1291,992V997M1291,1002V1017M1291,1027V1032M1171,877V882M1171,992V1027M1496,877V892M1201,882V887M1201,947V952M1201,1002V1007M1201,1012V1022M1201,1087V1092M1226,882V887M1226,897V912M1226,922V942M1226,977V1002M1226,1012V1037M1226,1067V1072M1311,882V887M1311,927V937M1311,972V987M1311,992V1002M1311,1017V1032M1311,1037V1052M1311,1057V1062M1311,1077V1082M1311,1102V1122M1516,882V887M1316,887V897M1316,917V927M1316,1002V1017M1316,1082V1087M901,892V912M901,922V932M901,987V992M901,1047V1062M996,892V902M996,907V912M996,992V997M1436,892V907M1436,932V952M1436,977V982M1461,892V902M1461,922V927M846,897V902M1321,897V907M1321,912V917M1321,947V952M1321,1007V1012M1321,1087V1092M841,902V932M856,902V907M856,1002V1007M1166,902V917M1166,947V952M1166,1027V1037M1166,1092V1097M1166,1112V1127M1466,902V952M866,907V912M866,1017V1022M1206,907V912M1206,952V962M1206,1007V1012M1206,1057V1062M1326,907V912M1326,952V967M1326,1032V1037M1441,907V932M926,912V917M1231,912V922M1231,942V947M1231,1002V1012M1231,1037V1042M1331,912V917M1331,947V952M1331,967V977M1331,1012V1017M1331,1057V1062M1331,1092V1097M956,917V937M956,942V947M956,1022V1032M1271,917V922M1271,942V947M1271,957V962M1271,1007V1012M1271,1052V1077M1386,917V922M1386,1042V1047M1386,1062V1067M1411,917V937M1411,1002V1007M1446,917V922M1446,952V957M1481,917V922M1471,922V927M1381,932V937M1381,992V1022M1301,937V942M1301,952V967M1301,1027V1032M1376,937V947M1376,977V992M1376,1022V1032M1376,1047V1057M1376,1067V1077M1406,937V942M1406,992V1002M1406,1007V1012M1416,937V942M1431,937V942M1431,952V957M1431,972V977M1401,942V967M1401,987V992M1401,1012V1017M1401,1042V1047M1266,947V957M1266,1062V1067M1266,1102V1107M1361,947V952M1361,1062V1067M1371,947V977M1371,1012V1017M1371,1032V1047M1371,1057V1067M966,952V957M966,1027V1032M1426,957V967M1281,967V972M1281,982V987M1281,1002V1007M1281,1087V1092M1396,967V972M1396,982V987M1396,1017V1042M1396,1047V1062M1421,967V972M1391,972V982M1391,1057V1062M971,977V982M971,1022V1027M971,1032V1037M971,1067V1077M1136,977V982M1336,977V982M1336,1017V1022M1336,1097V1102M1336,1122V1127M1351,977V982M1351,997V1017M1351,1042V1047M1351,1087V1102M1351,1147V1157M1341,982V992M1341,1022V1037M1341,1052V1077M1341,1107V1122M1346,992V997M1346,1017V1022M1346,1037V1042M1346,1047V1052M1346,1062V1067M1346,1077V1087M1346,1102V1107M1346,1127V1132M1196,997V1002M1196,1022V1027M1356,1007V1012M1356,1132V1147M1296,1017V1027M1296,1082V1087M921,1067V1072M1366,1162V1172" fill="none" stroke="#98c3d6" stroke-width="1.2"/>
<path d="M925.6,939.8 L973.0,938.7 L973.0,933.2 L979.6,932.1 L986.2,933.2 L996.1,929.9 L997.2,917.8 L1011.5,915.6 L1017.0,923.3 L1021.4,927.7 L1021.4,935.4 L1040.1,935.4 L1039.0,951.9 L1034.6,954.2 L1021.4,956.4 L1020.3,1016.9 L961.9,1016.9 L961.9,990.5 L930.0,983.9 L930.0,956.4 L925.6,954.2Z" fill="#5cb8e3" stroke="#8cc0d8" stroke-width="1"/>
<path d="M873.9,939.8 L924.5,939.8 L930.0,954.2 L930.0,983.9 L911.3,987.2 L909.1,1007.0 L886.0,989.4 L873.9,954.2Z" fill="#9dd5ee" stroke="#8cc0d8" stroke-width="1"/>
<path d="M908.0,999.3 L922.3,1010.3 L911.3,1031.2 L928.9,1046.6 L953.1,1051.0 L959.7,1056.6 L953.1,1067.6 L928.9,1062.1 L915.7,1068.7 L895.9,1048.8 L909.1,1042.2 L913.5,1020.2 L904.7,1009.2Z" fill="#82c8ea" stroke="#8cc0d8" stroke-width="1"/>
<path d="M830.9,830.8 L855.1,819.8 L878.3,819.8 L880.5,830.8 L900.3,836.3 L886.0,850.6 L871.7,852.9 L871.7,866.1 L840.8,866.1 L838.6,855.1Z" fill="#90cfec" stroke="#8cc0d8" stroke-width="1"/>
<path d="M840.8,971.8 L847.4,974.0 L861.8,991.6 L871.7,1011.4 L869.5,1016.9 L860.6,1014.7 L845.2,991.6 L843.0,980.6Z" fill="#90cfec" stroke="#8cc0d8" stroke-width="1"/>
<path d="M1021.4,956.4 L1034.6,951.9 L1040.1,934.3 L1066.6,933.2 L1072.1,929.9 L1072.1,944.2 L1065.5,945.3 L1065.5,955.3 L1082.0,955.3 L1082.0,945.3 L1089.7,944.2 L1089.7,924.4 L1105.1,924.4 L1106.2,937.6 L1120.5,937.6 L1120.5,943.1 L1107.3,944.2 L1107.3,956.4 L1115.0,956.4 L1115.0,971.8 L1106.2,971.8 L1106.2,991.6 L1083.1,991.6 L1082.0,983.9 L1065.5,985.0 L1065.5,998.2 L1058.8,992.7 L1066.6,1007.0 L1066.6,1016.9 L1040.1,1016.9 L1040.1,1007.0 L1021.4,1007.0 L1021.4,999.3 L1034.6,998.2 L1040.1,991.6 L1030.2,990.5 L1042.3,980.6 L1021.4,980.6Z" fill="#0a8bc8" stroke="#0a8bc8" stroke-width="1"/>
<path d="M1044.5,898.0 L1058.8,898.0 L1058.8,890.7 L1067.7,890.7 L1067.7,914.5 L1044.5,914.5Z" fill="#0a8bc8" stroke="#0a8bc8" stroke-width="1"/>
<path d="M1072.1,915.6 L1080.9,915.6 L1080.9,928.8 L1072.1,928.8Z" fill="#0a8bc8" stroke="#0a8bc8" stroke-width="1"/>
<path d="M1097.4,998.2 L1106.2,998.2 L1106.2,1007.0 L1097.4,1007.0Z" fill="#0a8bc8" stroke="#0a8bc8" stroke-width="1"/>
<path d="M1058.8,846.2 L1066.6,840.7 L1076.5,845.1 L1078.7,854.0 L1072.1,862.8 L1058.8,858.4 L1056.2,852.9Z" fill="#f2f2f2" stroke="#cfcfcf" stroke-width="1"/>
<path d="M1115.0,944.2 L1127.1,943.1 L1127.1,959.7 L1116.1,959.7Z" fill="#f2f2f2" stroke="#cfcfcf" stroke-width="1"/>
<path d="M1294.5,910.1 L1304.8,909.3 L1313.6,916.0 L1315.1,943.3 L1303.3,942.4 L1296.0,938.0Z" fill="#7cc6ea" stroke="#8cc0d8" stroke-width="1"/>
<path d="M1492.8,863.1 L1503.1,847.0 L1511.9,848.5 L1520.7,852.9 L1520.7,879.3 L1511.9,880.8 L1510.4,864.6Z" fill="#f2f2f2" stroke="#cfcfcf" stroke-width="1"/>
<path d="M1325.4,887.5 L1331.2,885.8 L1332.7,898.4 L1325.4,898.4Z" fill="#f2f2f2" stroke="#cfcfcf" stroke-width="1"/>
<path d="M1127,1142 L1140,1141 L1146,1150 L1143,1163 L1134,1156 Z" fill="#f2f2f2" stroke="#cfcfcf" stroke-width="1"/>
<path d="M884.9,1155.5 L886.3,1162.5 L903.8,1160.9 L907.8,1157.5 L920.0,1154.1 L929.4,1156.2 L933.4,1160.9 L937.5,1163.6 L937.5,1170.3 L942.9,1171.7 L949.6,1175.0 L952.3,1174.4 L956.4,1182.4 L961.7,1190.5 L966.5,1195.2 L965.1,1198.6 L960.4,1200.0 L956.4,1197.3 L952.3,1190.5 L946.9,1182.4 L941.5,1176.4 L934.8,1173.0 L928.0,1171.7 L921.3,1169.6 L915.9,1166.9 L913.2,1169.0 L910.5,1174.4 L906.5,1182.4 L902.4,1189.2 L894.4,1195.9 L883.6,1201.3 L870.1,1206.0 L856.6,1209.4 L843.1,1212.8 L832.3,1212.8 L829.7,1210.1 L840.4,1209.4 L853.9,1206.0 L867.4,1201.3 L880.9,1194.6 L891.7,1186.5 L895.7,1179.7 L889.0,1180.4 L882.2,1179.7 L876.8,1174.4 L870.1,1173.0 L872.8,1167.6 L873.5,1162.2 L878.2,1155.5Z" fill="#a8dcf2" stroke="#9ccbe0" stroke-width="1"/>
<path d="M937.5,1170.3 L942.9,1171.7 L949.6,1175.0 L952.3,1174.4 L956.4,1182.4 L961.7,1190.5 L966.5,1195.2 L965.1,1198.6 L960.4,1200.0 L956.4,1197.3 L952.3,1190.5 L946.9,1182.4 L941.5,1176.4 L937.5,1173.0Z" fill="#98c8df" stroke="#98c8df" stroke-width="1"/>
<path d="M897.0,1100.9 L902.4,1103.6 L907.8,1105.6 L914.6,1107.6 L921.3,1109.0 L929.4,1111.3 L937.5,1114.4 L937.5,1163.6 L933.4,1160.9 L929.4,1156.2 L920.0,1154.1 L907.8,1157.5 L903.8,1160.9 L886.3,1162.5 L884.9,1155.5 L880.9,1150.1 L886.3,1147.4 L883.6,1143.4 L876.8,1144.7 L868.7,1142.0 L870.1,1136.6 L878.2,1135.3 L884.9,1136.6 L882.2,1131.2 L875.5,1125.8 L871.4,1123.1 L874.1,1117.7 L882.2,1111.0 L887.6,1106.3Z" fill="#f3f3f3" stroke="#d4d4d4" stroke-width="1"/>
<path d="M817.5,1206.0 L820.2,1206.7 L821.6,1208.7 L818.9,1208.0Z" fill="#a8dcf2" stroke="#9ccbe0" stroke-width="0.8"/>
<path d="M829.0,1210.1 L832.3,1209.4 L835.0,1211.4 L831.0,1212.1Z" fill="#a8dcf2" stroke="#9ccbe0" stroke-width="0.8"/>
<path d="M853.9,1169.0 L855.9,1170.3 L856.6,1172.3 L854.6,1171.7Z" fill="#a8dcf2" stroke="#9ccbe0" stroke-width="0.8"/>
<path d="M868.7,1171.7 L872.8,1170.3 L874.8,1173.7 L870.8,1174.4Z" fill="#a8dcf2" stroke="#9ccbe0" stroke-width="0.8"/>
<path d="M857.3,1152.8 L863.4,1153.5 L866.0,1156.8 L860.7,1157.5Z" fill="#a8dcf2" stroke="#9ccbe0" stroke-width="0.8"/>
<path d="M861.3,1186.5 L863.4,1186.5 L864.0,1189.9 L862.0,1189.9Z" fill="#a8dcf2" stroke="#9ccbe0" stroke-width="0.8"/>
<path d="M1015.7,1175.7 L1018.4,1171.7 L1020.4,1173.0 L1017.7,1176.4Z" fill="#a8dcf2" stroke="#9ccbe0" stroke-width="1"/>
<path d="M1032.1,1171.0 L1031.7,1172.6 L1030.5,1173.8 L1028.8,1174.5 L1026.8,1174.5 L1025.1,1173.8 L1023.9,1172.6 L1023.5,1171.0 L1023.9,1169.4 L1025.1,1168.1 L1026.8,1167.4 L1028.8,1167.4 L1030.5,1168.1 L1031.7,1169.4Z" fill="#a8dcf2" stroke="#9ccbe0" stroke-width="1"/>
<path d="M1046.7,1178.4 L1050.7,1176.4 L1056.1,1181.1 L1057.4,1184.5 L1052.1,1184.5 L1048.7,1182.4Z" fill="#a8dcf2" stroke="#9ccbe0" stroke-width="1"/>
<path d="M1062.2,1185.8 L1072.3,1185.1 L1072.9,1187.8 L1062.8,1187.8Z" fill="#a8dcf2" stroke="#9ccbe0" stroke-width="1"/>
<path d="M1066.2,1189.9 L1069.6,1189.9 L1070.3,1193.2 L1066.9,1193.2Z" fill="#a8dcf2" stroke="#9ccbe0" stroke-width="1"/>
<path d="M1072.3,1188.5 L1077.7,1189.2 L1083.7,1192.5 L1081.7,1195.9 L1076.3,1195.9 L1072.9,1193.2Z" fill="#a8dcf2" stroke="#9ccbe0" stroke-width="1"/>
<path d="M1072.9,1195.9 L1075.6,1195.2 L1075.0,1197.3Z" fill="#a8dcf2" stroke="#9ccbe0" stroke-width="1"/>
<path d="M1083.1,1202.7 L1088.4,1200.6 L1096.5,1208.0 L1102.6,1213.4 L1095.2,1218.8 L1088.4,1223.6 L1085.1,1220.2 L1084.4,1213.4 L1082.4,1209.4Z" fill="#a8dcf2" stroke="#9ccbe0" stroke-width="1"/>
<linearGradient id="leg5" x1="0" y1="0" x2="1" y2="0"><stop offset="0" stop-color="#b0e0f5"/><stop offset="0.5" stop-color="#4cb0e0"/><stop offset="1" stop-color="#0288c8"/></linearGradient>
<rect x="821" y="1224" width="192.5" height="17" fill="url(#leg5)"/>
<text x="801" y="1239" font-size="18" fill="#222" text-anchor="start" font-weight="normal" font-style="normal" >0</text>
<text x="1023.5" y="1239" font-size="18" fill="#222" text-anchor="start" font-weight="normal" font-style="normal" >5,000</text>
<rect x="736" y="1291.5" width="909" height="1.5" fill="#ffffff"/>
<rect x="832" y="1291.5" width="2" height="1.5" fill="#555"/><rect x="838" y="1291.5" width="2" height="1.5" fill="#555"/>
<rect x="0" y="1349" width="1669" height="13" fill="#f0f0f0"/>
<text x="1702.5" y="96" font-size="28.8" fill="#111" text-anchor="start" font-weight="bold" font-style="normal" >$27,570.00</text>
<text x="1702.5" y="119.5" font-size="18" fill="#999">% of Total: <tspan font-weight="bold">100.00% ($27,570.00)</tspan></text>
<rect x="2238" y="123.5" width="112" height="2.5" fill="#6cc3ea"/>
<path d="M2238.5,124.5 L2240,123.5 L2243.4,121.8 L2246.5,123.8 L2250,124 L2254,123.5 L2258.4,120.8 L2261,123.5 L2262.5,122.8 L2264,124 L2276,124 L2278.7,121 L2281,123.5 L2283.5,101 L2285.8,101 L2287.5,123.5 L2291.5,124 L2293,112.5 L2294.8,112.5 L2296.5,123.5 L2299,124 L2300.4,118 L2302,124 L2307,124 L2310.5,123.5 L2314,121 L2317.5,123.5 L2320,124 L2326,123.8 L2330,122.8 L2335,123.5 L2338,123.2 L2342.5,117.5 L2344.5,117.5 L2346,123 L2349.7,124.5" fill="none" stroke="#058dc7" stroke-width="2.4" stroke-linejoin="round"/>
<rect x="1716" y="246.0" width="16" height="15.5" fill="#058dc7"/>
<text x="1738" y="261.5" font-size="19.5" fill="#222" text-anchor="start" font-weight="normal" font-style="normal" >Twitter</text>
<rect x="1822" y="246.0" width="16" height="15.5" fill="#50b432"/>
<text x="1844" y="261.5" font-size="19.5" fill="#222" text-anchor="start" font-weight="normal" font-style="normal" >Facebook</text>
<rect x="1952.5" y="246.0" width="16" height="15.5" fill="#ed561b"/>
<text x="1974" y="261.5" font-size="19.5" fill="#222" text-anchor="start" font-weight="normal" font-style="normal" >Google+</text>
<rect x="2071" y="246.0" width="16" height="15.5" fill="#eef000"/>
<text x="2092.5" y="261.5" font-size="19.5" fill="#222" text-anchor="start" font-weight="normal" font-style="normal" >LinkedIn</text>
<rect x="1716" y="268.0" width="16" height="15.5" fill="#1eb1df"/>
<text x="1738" y="283.5" font-size="19.5" fill="#222" text-anchor="start" font-weight="normal" font-style="normal" >Stack Overflow</text>
<rect x="1892" y="268.0" width="16" height="15.5" fill="#64e572"/>
<text x="1914" y="283.5" font-size="19.5" fill="#222" text-anchor="start" font-weight="normal" font-style="normal" >Other</text>
<path d="M2027.00,319.50 A148,148 0 1 1 1963.98,601.41 L1995.07,535.36 A75,75 0 1 0 2027.00,392.50 Z" fill="#058dc7" stroke="#fff" stroke-width="1.5" stroke-linejoin="round"/>
<path d="M1963.98,601.41 A148,148 0 0 1 1891.90,407.07 L1958.54,436.88 A75,75 0 0 0 1995.07,535.36 Z" fill="#50b432" stroke="#fff" stroke-width="1.5" stroke-linejoin="round"/>
<path d="M1891.90,407.07 A148,148 0 0 1 1942.96,345.68 L1984.41,405.76 A75,75 0 0 0 1958.54,436.88 Z" fill="#ed561b" stroke="#fff" stroke-width="1.5" stroke-linejoin="round"/>
<path d="M1942.96,345.68 A148,148 0 0 1 1963.28,333.92 L1994.71,399.81 A75,75 0 0 0 1984.41,405.76 Z" fill="#eef000" stroke="#fff" stroke-width="1.5" stroke-linejoin="round"/>
<path d="M1963.28,333.92 A148,148 0 0 1 1978.57,327.65 L2002.46,396.63 A75,75 0 0 0 1994.71,399.81 Z" fill="#1eb1df" stroke="#fff" stroke-width="1.5" stroke-linejoin="round"/>
<path d="M1978.57,327.65 A148,148 0 0 1 2027.00,319.50 L2027.00,392.50 A75,75 0 0 0 2002.46,396.63 Z" fill="#64e572" stroke="#fff" stroke-width="1.5" stroke-linejoin="round"/>
<text x="2026" y="452" font-size="19" fill="#111" text-anchor="middle" font-weight="normal" font-style="normal" >1,839</text>
<text x="2026" y="494" font-size="19" fill="#111" text-anchor="middle" font-weight="normal" font-style="normal" >Sessions</text>
<text x="2135.5" y="498.5" font-size="15" fill="#fff" text-anchor="middle" font-weight="normal" font-style="normal" >57%</text>
<text x="1922.5" y="510" font-size="15" fill="#fff" text-anchor="middle" font-weight="normal" font-style="normal" >24.7%</text>
<text x="1936.5" y="401.5" font-size="15" fill="#fff" text-anchor="middle" font-weight="normal" font-style="normal" >8.4%</text>
<rect x="1743" y="775" width="2" height="336" fill="#cccccc"/>
<rect x="1884" y="775" width="2" height="336" fill="#cccccc"/>
<rect x="2024" y="775" width="2" height="336" fill="#cccccc"/>
<rect x="2164.5" y="775" width="2" height="336" fill="#cccccc"/>
<rect x="2305" y="775" width="2" height="336" fill="#cccccc"/>
<rect x="1744" y="797.5" width="533" height="68.5" fill="#058dc7"/>
<text x="1755" y="838" font-size="16.3" fill="#111" text-anchor="start" font-weight="normal" font-style="normal" stroke="#fff" stroke-width="3" paint-order="stroke" stroke-linejoin="round">tablet</text>
<rect x="1744" y="908.5" width="170.5" height="70.5" fill="#058dc7"/>
<text x="1755" y="950.5" font-size="16.3" fill="#111" text-anchor="start" font-weight="normal" font-style="normal" stroke="#fff" stroke-width="3" paint-order="stroke" stroke-linejoin="round">desktop</text>
<rect x="1744" y="1021.5" width="88" height="68.5" fill="#058dc7"/>
<text x="1755" y="1062" font-size="16.3" fill="#111" text-anchor="start" font-weight="normal" font-style="normal" stroke="#fff" stroke-width="3" paint-order="stroke" stroke-linejoin="round">mobile</text>
<text x="1745" y="1138" font-size="16.5" fill="#777" text-anchor="middle" font-weight="normal" font-style="normal" >1.2</text>
<text x="1885.5" y="1138" font-size="16.5" fill="#777" text-anchor="middle" font-weight="normal" font-style="normal" >1.3</text>
<text x="2026" y="1138" font-size="16.5" fill="#777" text-anchor="middle" font-weight="normal" font-style="normal" >1.4</text>
<text x="2166.5" y="1138" font-size="16.5" fill="#777" text-anchor="middle" font-weight="normal" font-style="normal" >1.5</text>
<text x="2307" y="1138" font-size="16.5" fill="#777" text-anchor="middle" font-weight="normal" font-style="normal" >1.6</text>
<text x="2026" y="1167" font-size="16.8" fill="#222" text-anchor="middle" font-weight="normal" font-style="italic" >Pages / Session</text>
<text x="0" y="0" font-size="16.8" fill="#222" font-style="italic" text-anchor="middle" transform="translate(1731,943) rotate(-90)">Device Category</text>
</svg>
</body></html>
